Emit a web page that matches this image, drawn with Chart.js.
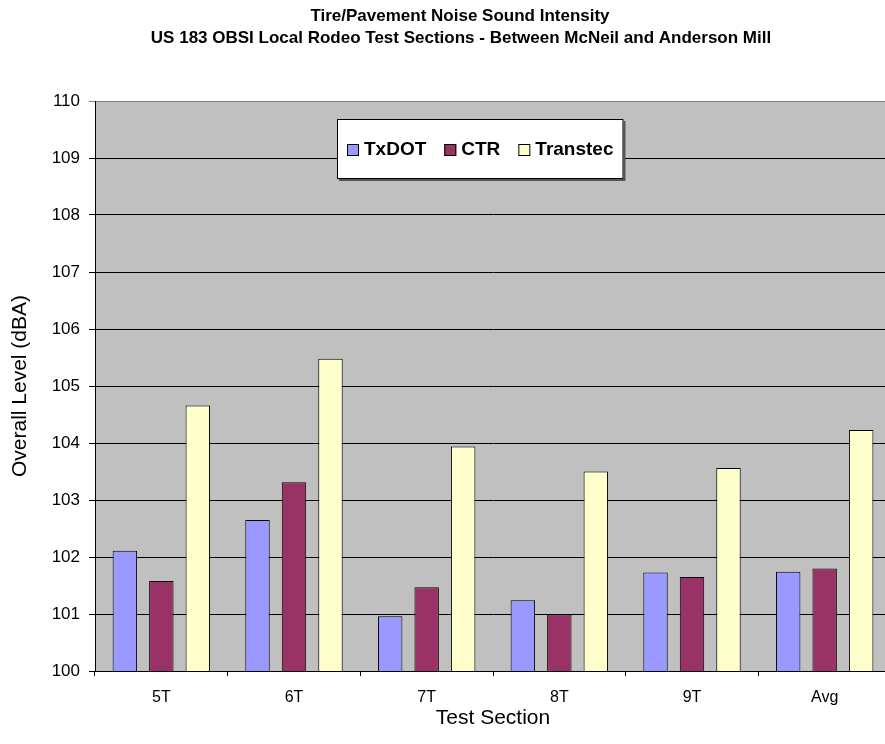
<!DOCTYPE html>
<html>
<head>
<meta charset="utf-8">
<script src="https://cdn.jsdelivr.net/npm/chart.js@4/dist/chart.umd.min.js"></script>
<style>
  html, body { margin: 0; padding: 0; background: #ffffff; overflow: hidden; }
  #wrap { width: 885px; height: 744px; overflow: hidden; }
</style>
</head>
<body>
<div id="wrap"><canvas id="chart" width="891" height="744"></canvas></div>
<script>
// Overall tire/pavement noise levels (dBA) by test section and measuring team
const categories = ['5T', '6T', '7T', '8T', '9T', 'Avg'];
const txdotLevels    = [102.11, 102.65, 100.96, 101.24, 101.73, 101.74];
const ctrLevels      = [101.58, 103.31, 101.47, 100.99, 101.65, 101.80];
const transtecLevels = [104.66, 105.48, 103.94, 103.50, 103.56, 104.23];

const titleLines = [
  'Tire/Pavement Noise Sound Intensity',
  'US 183 OBSI Local Rodeo Test Sections - Between McNeil and Anderson Mill'
];
const seriesNames = ['TxDOT', 'CTR', 'Transtec'];
const seriesColors = ['#9999FF', '#993366', '#FFFFCC'];

const FONT = "'Liberation Sans', Arial, Helvetica, sans-serif";

// Grey plot-area fill behind grid and bars
const plotBackground = {
  id: 'plotBackground',
  beforeDraw(chart) {
    const { ctx, chartArea: a } = chart;
    ctx.save();
    ctx.fillStyle = '#C0C0C0';
    ctx.fillRect(a.left, a.top, a.right - a.left, a.bottom - a.top);
    ctx.restore();
  }
};

// Two-line bold heading above the plot
const headingPlugin = {
  id: 'heading',
  afterDraw(chart) {
    const { ctx } = chart;
    ctx.save();
    ctx.fillStyle = '#000';
    ctx.font = 'bold 17px ' + FONT;
    ctx.textAlign = 'center';
    ctx.textBaseline = 'middle';
    ctx.fillText(titleLines[0], 460, 16);
    ctx.fillText(titleLines[1], 461, 38);
    ctx.restore();
  }
};

// Boxed legend floating inside the plot area
const boxedLegend = {
  id: 'boxedLegend',
  afterDraw(chart) {
    const { ctx } = chart;
    const left = 337, top = 119, height = 60;
    const pad = 10, sq = 12, gapSq = 5, gapItem = 18;
    ctx.save();
    ctx.font = 'bold 19px ' + FONT;
    const items = chart.data.datasets.map(ds => ({
      text: ds.label, color: ds.backgroundColor, w: ctx.measureText(ds.label).width
    }));
    let width = pad * 2;
    items.forEach((it, i) => { width += sq + gapSq + it.w + (i < items.length - 1 ? gapItem : 0); });
    // drop shadow
    ctx.fillStyle = '#555555';
    ctx.fillRect(left + 2, top + 2, width, height);
    ctx.fillStyle = '#ffffff';
    ctx.fillRect(left, top, width, height);
    ctx.strokeStyle = '#000000';
    ctx.lineWidth = 1;
    ctx.strokeRect(left + 0.5, top + 0.5, width - 1, height - 1);
    const cy = top + height / 2 + 1;
    let x = left + pad;
    ctx.textBaseline = 'middle';
    ctx.textAlign = 'left';
    items.forEach(it => {
      ctx.fillStyle = it.color;
      ctx.fillRect(x, cy - sq / 2, sq, sq);
      ctx.strokeStyle = '#000';
      ctx.strokeRect(x + 0.5, cy - sq / 2 + 0.5, sq - 1, sq - 1);
      x += sq + gapSq;
      ctx.fillStyle = '#000';
      ctx.fillText(it.text, x, cy);
      x += it.w + gapItem;
    });
    ctx.restore();
  }
};

const datasets = [txdotLevels, ctrLevels, transtecLevels].map((vals, i) => ({
  label: seriesNames[i],
  data: vals,
  backgroundColor: seriesColors[i],
  borderColor: '#000000',
  borderWidth: 1,
  borderSkipped: false,
  barPercentage: 0.67,
  categoryPercentage: 0.825
}));

new Chart(document.getElementById('chart'), {
  type: 'bar',
  data: { labels: categories, datasets },
  plugins: [plotBackground, headingPlugin, boxedLegend],
  options: {
    responsive: false,
    animation: false,
    devicePixelRatio: 1,
    layout: { padding: { top: 101, left: 0, right: 0, bottom: 0 } },
    plugins: {
      legend: { display: false },
      title: { display: false },
      tooltip: { enabled: false }
    },
    scales: {
      x: {
        grid: { drawOnChartArea: false, tickLength: 5, color: '#000', offset: true },
        border: { display: true, color: '#000', width: 1 },
        ticks: { color: '#000', font: { family: FONT, size: 16 }, padding: 12 },
        title: {
          display: true, text: 'Test Section', color: '#000',
          font: { family: FONT, size: 21 }, padding: { top: 0, bottom: 13 }
        },
        afterFit(scale) { scale.height = 73; }
      },
      y: {
        min: 100, max: 110,
        grid: {
          color: ctx => (ctx.tick && ctx.tick.value === 110 ? '#808080' : '#000000'),
          lineWidth: 1, tickLength: 6
        },
        border: { display: true, color: '#000', width: 1 },
        ticks: { stepSize: 1, color: '#000', font: { family: FONT, size: 17 }, padding: 9 },
        title: {
          display: true, text: 'Overall Level (dBA)', color: '#000',
          font: { family: FONT, size: 21 }, padding: { top: 8, bottom: 0 }
        },
        afterFit(scale) { scale.width = 95; }
      }
    }
  }
});
</script>
</body>
</html>
